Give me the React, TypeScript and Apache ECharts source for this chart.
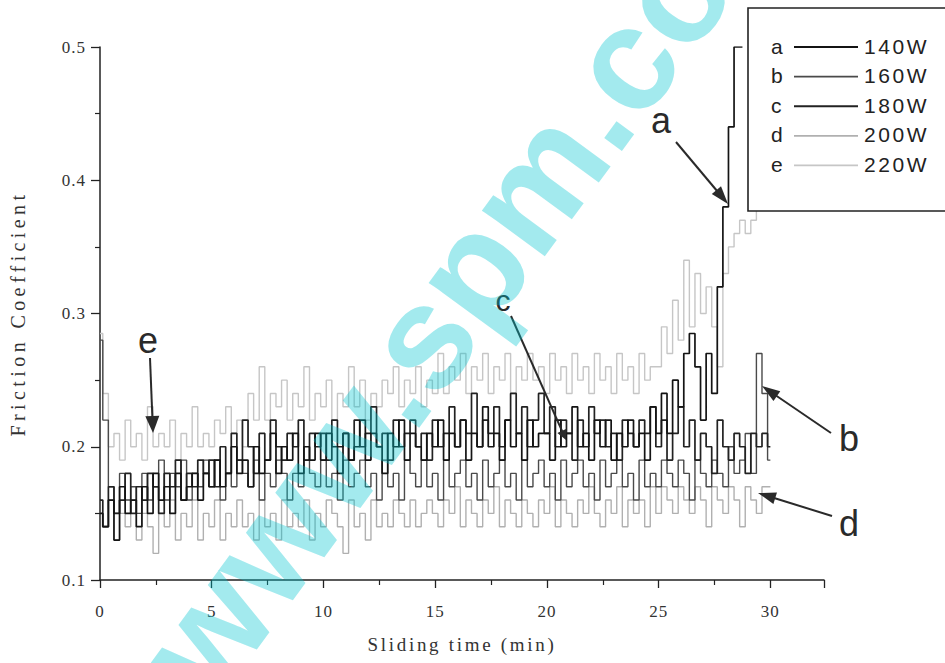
import React, { useEffect, useRef } from "react";
import * as echarts from "echarts";

// minutes between successive readings
const SAMPLE_STEP = 0.25;

// Friction coefficient readings (every 0.25 min)
const a140 = [
  0.15, 0.14, 0.16, 0.13, 0.17, 0.15, 0.16, 0.14, 0.17, 0.15, 0.18, 0.16, 0.17, 0.15, 0.18, 0.16, 0.17, 0.18, 0.16, 0.18,
  0.17, 0.19, 0.17, 0.18, 0.2, 0.18, 0.19, 0.17, 0.2, 0.18, 0.19, 0.21, 0.18, 0.2, 0.19, 0.21, 0.18, 0.2, 0.19, 0.21,
  0.19, 0.21, 0.2, 0.18, 0.21, 0.19, 0.2, 0.22, 0.19, 0.21, 0.2, 0.18, 0.21, 0.2, 0.22, 0.19, 0.21, 0.2, 0.19, 0.21,
  0.2, 0.22, 0.19, 0.21, 0.2, 0.22, 0.19, 0.21, 0.2, 0.23, 0.2, 0.21, 0.19, 0.22, 0.2, 0.21, 0.19, 0.22, 0.2, 0.21,
  0.21, 0.19, 0.22, 0.2, 0.21, 0.23, 0.2, 0.21, 0.19, 0.22, 0.2, 0.22, 0.19, 0.21, 0.2, 0.22, 0.2, 0.21, 0.19, 0.23,
  0.21, 0.24, 0.21, 0.25, 0.23, 0.27, 0.285, 0.26, 0.22, 0.27, 0.24, 0.32, 0.38, 0.44, 0.5, 0.5,
];
const b160 = [
  0.28, 0.22, 0.17, 0.15, 0.18, 0.16, 0.17, 0.15, 0.18, 0.16, 0.17, 0.19, 0.16, 0.18, 0.17, 0.19, 0.16, 0.18, 0.17, 0.19,
  0.17, 0.19, 0.16, 0.18, 0.17, 0.19, 0.18, 0.17, 0.19, 0.16, 0.18, 0.17, 0.19, 0.18, 0.16, 0.18, 0.17, 0.19, 0.18, 0.17,
  0.19, 0.17, 0.18, 0.16, 0.19, 0.17, 0.18, 0.19, 0.17, 0.18, 0.16, 0.19, 0.17, 0.18, 0.16, 0.19, 0.18, 0.17, 0.19, 0.17,
  0.18, 0.16, 0.19, 0.17, 0.18, 0.19, 0.17, 0.18, 0.16, 0.19, 0.17, 0.18, 0.19, 0.17, 0.18, 0.16, 0.19, 0.17, 0.18, 0.19,
  0.17, 0.18, 0.16, 0.19, 0.17, 0.18, 0.19, 0.17, 0.18, 0.16, 0.19, 0.17, 0.18, 0.19, 0.17, 0.18, 0.16, 0.19, 0.17, 0.18,
  0.17, 0.19, 0.18, 0.17, 0.19, 0.18, 0.16, 0.19, 0.18, 0.17, 0.19, 0.18, 0.17, 0.2, 0.18, 0.19, 0.21, 0.18, 0.27, 0.24,
  0.19,
];
const c180 = [
  0.16, 0.14, 0.17, 0.15, 0.16, 0.18, 0.15, 0.17, 0.16, 0.18, 0.17, 0.15, 0.18, 0.17, 0.19, 0.16, 0.18, 0.17, 0.19, 0.18,
  0.19, 0.17, 0.2, 0.18, 0.21, 0.19, 0.22, 0.2, 0.18, 0.21, 0.19, 0.22, 0.2, 0.19, 0.21, 0.2, 0.22, 0.19, 0.21, 0.2,
  0.21, 0.19, 0.22, 0.2, 0.21, 0.19, 0.22, 0.2, 0.21, 0.23, 0.2, 0.21, 0.19, 0.22, 0.2, 0.21, 0.22, 0.2, 0.21, 0.19,
  0.22, 0.2, 0.21, 0.23, 0.2, 0.22, 0.21, 0.24, 0.2, 0.22, 0.21, 0.23, 0.2, 0.22, 0.24, 0.21, 0.23, 0.2, 0.22, 0.24,
  0.21, 0.23, 0.2, 0.22, 0.21, 0.19, 0.22, 0.2, 0.23, 0.21, 0.22, 0.2, 0.21, 0.19, 0.22, 0.21, 0.2, 0.22, 0.21, 0.23,
  0.2, 0.22, 0.19, 0.21, 0.23, 0.2, 0.22, 0.19, 0.21, 0.2, 0.18, 0.22, 0.2, 0.19, 0.21, 0.2, 0.18, 0.21, 0.2, 0.21,
  0.2,
];
const d200 = [
  0.15, 0.14, 0.16, 0.13, 0.15, 0.14, 0.16, 0.13, 0.15, 0.14, 0.12, 0.15, 0.14, 0.16, 0.13, 0.15, 0.14, 0.16, 0.13, 0.15,
  0.14, 0.16, 0.13, 0.15, 0.14, 0.16, 0.14, 0.15, 0.13, 0.16, 0.14, 0.15, 0.13, 0.16, 0.14, 0.15, 0.14, 0.16, 0.13, 0.15,
  0.14, 0.16, 0.15, 0.14, 0.12, 0.16, 0.14, 0.15, 0.13, 0.16, 0.14, 0.15, 0.14, 0.16, 0.15, 0.14, 0.16, 0.14, 0.15, 0.16,
  0.15, 0.14, 0.16, 0.15, 0.17, 0.14, 0.16, 0.15, 0.14, 0.16, 0.15, 0.17, 0.14, 0.16, 0.15, 0.14, 0.16, 0.15, 0.14, 0.16,
  0.15, 0.17, 0.14, 0.16, 0.15, 0.14, 0.16, 0.15, 0.17, 0.15, 0.14, 0.16, 0.15, 0.17, 0.14, 0.16, 0.15, 0.16, 0.14, 0.17,
  0.15, 0.17, 0.16, 0.15, 0.17, 0.16, 0.15, 0.17, 0.16, 0.14, 0.17, 0.16, 0.15, 0.17, 0.16, 0.14, 0.17, 0.16, 0.15, 0.17,
  0.17,
];
const e220 = [
  0.285, 0.24, 0.2, 0.21, 0.19, 0.22, 0.2, 0.21, 0.19, 0.23, 0.2, 0.21, 0.2, 0.22, 0.19, 0.21, 0.2, 0.23, 0.2, 0.21,
  0.2, 0.22, 0.21, 0.23, 0.21, 0.22, 0.2, 0.24, 0.22, 0.26, 0.22, 0.24, 0.23, 0.25, 0.22, 0.24, 0.23, 0.26, 0.22, 0.24,
  0.23, 0.25, 0.22, 0.24, 0.23, 0.26, 0.23, 0.25, 0.22, 0.24, 0.23, 0.25, 0.24, 0.26, 0.23, 0.25, 0.24, 0.26, 0.23, 0.25,
  0.24, 0.27, 0.24, 0.26, 0.25, 0.27, 0.24, 0.26, 0.25, 0.27, 0.24, 0.26, 0.25, 0.27, 0.24, 0.26, 0.25, 0.27, 0.25, 0.26,
  0.24, 0.27, 0.25, 0.26, 0.24, 0.27, 0.25, 0.26, 0.24, 0.27, 0.25, 0.26, 0.24, 0.27, 0.25, 0.26, 0.24, 0.27, 0.25, 0.26,
  0.26, 0.29, 0.27, 0.31, 0.28, 0.34, 0.29, 0.33, 0.3, 0.32, 0.29, 0.26, 0.33, 0.35, 0.36, 0.37, 0.36, 0.37, 0.38, 0.38,
  0.38,
];

const seriesLetters = ["a", "b", "c", "d", "e"];
const seriesPowers = ["140W", "160W", "180W", "200W", "220W"];
const seriesValues = [a140, b160, c180, d200, e220];
const seriesColors = ["#141414", "#4a4a4a", "#222222", "#b0b0b0", "#c6c6c6"];
const seriesWidths = [1.7, 1.4, 1.7, 1.4, 1.4];
const drawOrder = [4, 3, 1, 2, 0];

const xTitle = "Sliding time (min)";
const yTitle = "Friction Coefficient";
const watermarkText = "www.spm.com";

const toPairs = (vals: number[]) => vals.map((v, i) => [i * SAMPLE_STEP, v]);

const css = `
text[style*="19px"]{letter-spacing:2.7px;}
text[style*="20px"]{letter-spacing:4.4px;}
text[style*="17px"]{letter-spacing:1px;}
text[style*="21px"]{letter-spacing:2.6px;}
`;

function arrow(x1: number, y1: number, x2: number, y2: number, len: number, half: number) {
  const dx = x2 - x1;
  const dy = y2 - y1;
  const L = Math.hypot(dx, dy);
  const ux = dx / L;
  const uy = dy / L;
  const bx = x2 - ux * len;
  const by = y2 - uy * len;
  const px = -uy;
  const py = ux;
  return [
    {
      type: "line",
      z: 50,
      shape: { x1, y1, x2: bx + ux * 2, y2: by + uy * 2 },
      style: { stroke: "#2a2a2a", lineWidth: 2 },
    },
    {
      type: "polygon",
      z: 50,
      shape: {
        points: [
          [x2, y2],
          [bx + px * half, by + py * half],
          [bx - px * half, by - py * half],
        ],
      },
      style: { fill: "#2a2a2a" },
    },
  ];
}

export default function App() {
  const ref = useRef<HTMLDivElement>(null);

  useEffect(() => {
    if (!ref.current) return;
    const chart = echarts.init(ref.current, null, { renderer: "svg" });
    const serif = "'Liberation Serif', 'Times New Roman', serif";
    const sans = "'Liberation Sans', Arial, sans-serif";

    const series = drawOrder.map((i) => ({
      name: `${seriesLetters[i]} ${seriesPowers[i]}`,
      type: "line",
      step: "middle",
      data: toPairs(seriesValues[i]),
      symbol: "none",
      showSymbol: false,
      silent: true,
      lineStyle: { color: seriesColors[i], width: seriesWidths[i] },
      itemStyle: { color: seriesColors[i] },
      emphasis: { disabled: true },
    }));

    const legendTop = 46;
    const legendGap = 29.6;
    const legendGraphics: any[] = [
      {
        type: "rect",
        z: 40,
        shape: { x: 748, y: 8, width: 240, height: 203 },
        style: { fill: "#ffffff", stroke: "#222", lineWidth: 1.6 },
      },
    ];
    seriesLetters.forEach((letter, i) => {
      const y = legendTop + i * legendGap;
      legendGraphics.push(
        {
          type: "text",
          z: 41,
          x: 771,
          y,
          style: {
            text: letter,
            font: `21px ${sans}`,
            fill: "#222",
            align: "left",
            verticalAlign: "middle",
          },
        },
        {
          type: "line",
          z: 41,
          shape: { x1: 794, y1: y + 1, x2: 858, y2: y + 1 },
          style: { stroke: seriesColors[i], lineWidth: seriesWidths[i] + 0.3 },
        },
        {
          type: "text",
          z: 41,
          x: 864,
          y,
          style: {
            text: seriesPowers[i],
            font: `21px ${sans}`,
            fill: "#222",
            align: "left",
            verticalAlign: "middle",
          },
        }
      );
    });

    const annotations = [
      { label: "a", lx: 661, ly: 120, size: 36, from: [676, 142], to: [728, 204], len: 18, half: 6 },
      { label: "c", lx: 503, ly: 300, size: 30, from: [511, 316], to: [566, 440], len: 10, half: 5 },
      { label: "e", lx: 148, ly: 340, size: 36, from: [150, 358], to: [153, 433], len: 17, half: 7 },
      { label: "b", lx: 849, ly: 438, size: 36, from: [831, 433], to: [762, 386], len: 18, half: 6 },
      { label: "d", lx: 849, ly: 523, size: 36, from: [832, 516], to: [758, 493], len: 18, half: 6 },
    ];
    const annGraphics: any[] = [];
    annotations.forEach((an) => {
      annGraphics.push({
        type: "text",
        z: 50,
        x: an.lx,
        y: an.ly,
        style: {
          text: an.label,
          font: `${an.size}px ${sans}`,
          fill: "#2a2a2a",
          align: "center",
          verticalAlign: "middle",
        },
      });
      annGraphics.push(...arrow(an.from[0], an.from[1], an.to[0], an.to[1], an.len, an.half));
    });

    const watermark = {
      type: "text",
      z: 100,
      x: 475,
      y: 265,
      rotation: 0.939,
      silent: true,
      style: {
        text: watermarkText,
        font: `bold 147px ${sans}`,
        fill: "rgba(0,198,208,0.36)",
        align: "center",
        verticalAlign: "middle",
      },
    };

    chart.setOption({
      animation: false,
      backgroundColor: "#ffffff",
      grid: { left: 98, right: 121, top: 47, bottom: 83, containLabel: false },
      xAxis: {
        type: "value",
        min: 0,
        max: 32.4,
        interval: 5,
        name: xTitle,
        nameLocation: "middle",
        nameGap: 55,
        nameTextStyle: { fontFamily: serif, fontSize: 19, color: "#333" },
        axisLine: { show: true, onZero: false, lineStyle: { color: "#222", width: 1.5 } },
        axisTick: { show: true, length: 8, lineStyle: { color: "#222", width: 1.3 } },
        minorTick: { show: true, splitNumber: 2, length: 5, lineStyle: { color: "#222", width: 1.2 } },
        splitLine: { show: false },
        minorSplitLine: { show: false },
        axisLabel: {
          fontFamily: serif,
          fontSize: 17,
          color: "#333",
          margin: 23,
          showMaxLabel: false,
        },
      },
      yAxis: {
        type: "value",
        min: 0.1,
        max: 0.5,
        interval: 0.1,
        name: yTitle,
        nameLocation: "middle",
        nameGap: 72,
        nameTextStyle: { fontFamily: serif, fontSize: 20, color: "#333" },
        axisLine: { show: true, onZero: false, lineStyle: { color: "#222", width: 1.5 } },
        axisTick: { show: true, length: 9, lineStyle: { color: "#222", width: 1.3 } },
        minorTick: { show: true, splitNumber: 2, length: 5, lineStyle: { color: "#222", width: 1.2 } },
        splitLine: { show: false },
        minorSplitLine: { show: false },
        axisLabel: {
          fontFamily: serif,
          fontSize: 17,
          color: "#333",
          margin: 14,
          formatter: (v: number) => v.toFixed(1),
        },
      },
      series,
      graphic: [...legendGraphics, ...annGraphics, watermark],
    });

    return () => chart.dispose();
  }, []);

  return (
    <div style={{ position: "absolute", left: 0, top: 0, width: 945, height: 663, background: "#fff" }}>
      <style>{css}</style>
      <div ref={ref} style={{ width: 945, height: 663 }} />
    </div>
  );
}
